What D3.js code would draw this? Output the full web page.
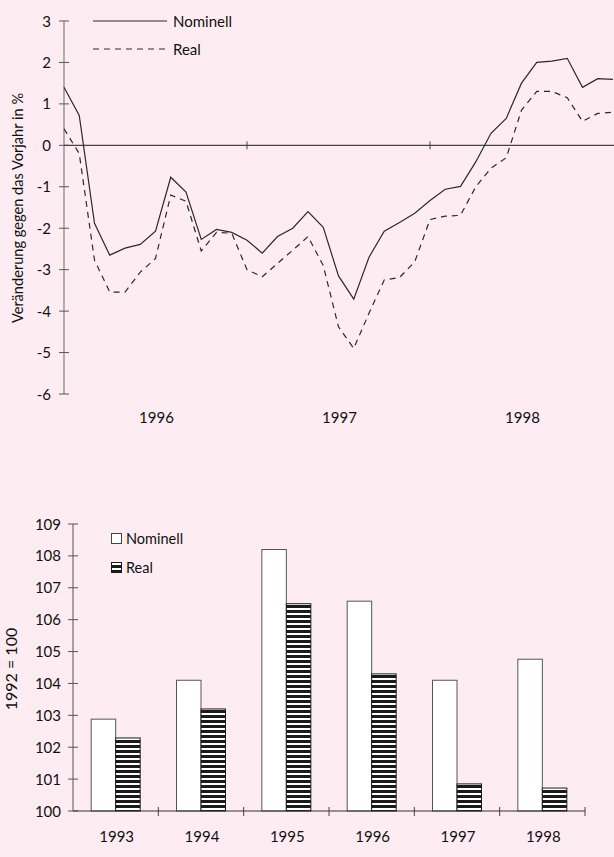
<!DOCTYPE html>
<html>
<head>
<meta charset="utf-8">
<script src="https://cdn.jsdelivr.net/npm/d3@7"></script>
<style>
  body { margin: 0; background: #fdedf2; }
  svg { display: block; font-family: Lato, "Noto Sans", sans-serif; }
  text { fill: #111; }
</style>
</head>
<body>
<div id="chart"></div>
<script>
// monthly change vs previous year, Dec 1995 .. Dec 1998 (index 0..36)
var years = ["1996", "1997", "1998"];
var nominal = [1.4, 0.72, -1.88, -2.65, -2.48, -2.39, -2.07, -0.77, -1.13, -2.27, -2.03, -2.1,
  -2.29, -2.6, -2.2, -2.0, -1.6, -1.98, -3.15, -3.71, -2.7, -2.07, -1.86, -1.64,
  -1.33, -1.06, -0.99, -0.4, 0.29, 0.65, 1.5, 2.0, 2.03, 2.1, 1.4, 1.61, 1.59];
var real = [0.4, -0.2, -2.77, -3.54, -3.54, -3.06, -2.73, -1.2, -1.35, -2.55, -2.1, -2.12,
  -3.0, -3.17, -2.85, -2.53, -2.2, -2.9, -4.38, -4.9, -4.05, -3.25, -3.19, -2.81,
  -1.79, -1.71, -1.69, -1.0, -0.55, -0.3, 0.85, 1.3, 1.3, 1.15, 0.58, 0.77, 0.8];
var topTicks = [3, 2, 1, 0, -1, -2, -3, -4, -5, -6];

// yearly index, 1992 = 100
var barYears = ["1993", "1994", "1995", "1996", "1997", "1998"];
var barNominal = [102.88, 104.1, 108.2, 106.58, 104.1, 104.76];
var barReal = [102.29, 103.2, 106.5, 104.3, 100.85, 100.72];
var barTicks = [100, 101, 102, 103, 104, 105, 106, 107, 108, 109];

var svgWidth = 614, svgHeight = 857;
var svg = d3.select("#chart").append("svg")
  .attr("width", svgWidth)
  .attr("height", svgHeight);

// stripe pattern for the "Real" bars
var pat = svg.append("defs").append("pattern")
  .attr("id", "stripes")
  .attr("patternUnits", "userSpaceOnUse")
  .attr("width", 8).attr("height", 5);
pat.append("rect").attr("width", 8).attr("height", 5).attr("fill", "#fff");
pat.append("rect").attr("width", 8).attr("height", 3).attr("fill", "#1b1b1b");

// ---------- top line chart ----------
var x = d3.scaleLinear().domain([0, 36]).range([64, 613]);
var y = d3.scaleLinear().domain([-6, 3]).range([394, 21]);

var topG = svg.append("g");

// y axis
topG.append("line")
  .attr("x1", x(0)).attr("x2", x(0))
  .attr("y1", y(3)).attr("y2", y(-6))
  .attr("stroke", "#888").attr("stroke-width", 1.3);
topG.selectAll(".ytick").data(topTicks).enter().append("line")
  .attr("x1", x(0) - 5).attr("x2", x(0) + 5)
  .attr("y1", d => y(d)).attr("y2", d => y(d))
  .attr("stroke", "#555");
topG.selectAll(".ylab").data(topTicks).enter().append("text")
  .attr("x", 51).attr("y", d => y(d) + 5.5)
  .attr("text-anchor", "end")
  .attr("font-size", 15)
  .text(d => d);

// zero line with year ticks
topG.append("line")
  .attr("x1", x(0)).attr("x2", svgWidth)
  .attr("y1", y(0)).attr("y2", y(0))
  .attr("stroke", "#444").attr("stroke-width", 1.2);
topG.selectAll(".xtick").data([12, 24]).enter().append("line")
  .attr("x1", d => x(d)).attr("x2", d => x(d))
  .attr("y1", y(0) - 4).attr("y2", y(0) + 4)
  .attr("stroke", "#444");

// year labels
topG.selectAll(".yr").data(years).enter().append("text")
  .attr("x", (d, i) => x(6 + i * 12) + 1)
  .attr("y", 423)
  .attr("text-anchor", "middle")
  .attr("font-size", 15)
  .text(d => d);

topG.append("text")
  .attr("transform", "translate(23, 208) rotate(-90)")
  .attr("text-anchor", "middle")
  .attr("font-size", 14.6)
  .text("Veränderung gegen das Vorjahr in %");

var line = d3.line().x((d, i) => x(i)).y(d => y(d));
topG.append("path").datum(nominal)
  .attr("d", line).attr("fill", "none")
  .attr("stroke", "#2a2a2a").attr("stroke-width", 1.2);
topG.append("path").datum(real)
  .attr("d", line).attr("fill", "none")
  .attr("stroke", "#2a2a2a").attr("stroke-width", 1.2)
  .attr("stroke-dasharray", "6,5");

// legend
var leg = [{ t: "Nominell", dash: null }, { t: "Real", dash: "6,5" }];
leg.forEach(function(l, i) {
  var ly = 21 + i * 28;
  topG.append("line")
    .attr("x1", 93).attr("x2", 167)
    .attr("y1", ly).attr("y2", ly)
    .attr("stroke", "#2a2a2a").attr("stroke-width", 1)
    .attr("stroke-dasharray", l.dash);
  topG.append("text")
    .attr("x", 173).attr("y", ly + 5.5)
    .attr("font-size", 15)
    .text(l.t);
});

// ---------- bottom bar chart ----------
var bx = d3.scaleBand().domain(barYears).range([73, 585]);
var by = d3.scaleLinear().domain([100, 109]).range([811, 524]);
var bw = 24.5;

var botG = svg.append("g");

botG.append("line")
  .attr("x1", 73).attr("x2", 73)
  .attr("y1", by(109)).attr("y2", by(100))
  .attr("stroke", "#777").attr("stroke-width", 1.3);
botG.selectAll(".ytick").data(barTicks).enter().append("line")
  .attr("x1", 68).attr("x2", 78)
  .attr("y1", d => by(d)).attr("y2", d => by(d))
  .attr("stroke", "#555");
botG.selectAll(".ylab").data(barTicks).enter().append("text")
  .attr("x", 61).attr("y", d => by(d) + 5.5)
  .attr("text-anchor", "end")
  .attr("font-size", 15)
  .text(d => d);

botG.append("text")
  .attr("transform", "translate(17, 669) rotate(-90)")
  .attr("text-anchor", "middle")
  .attr("font-size", 16)
  .text("1992 = 100");

// bars
botG.selectAll(".nom").data(barNominal).enter().append("rect")
  .attr("x", (d, i) => bx(barYears[i]) + bx.bandwidth() / 2 - bw)
  .attr("y", d => by(d))
  .attr("width", bw)
  .attr("height", d => by(100) - by(d))
  .attr("fill", "#fff")
  .attr("stroke", "#555").attr("stroke-width", 1);
botG.selectAll(".real").data(barReal).enter().append("rect")
  .attr("x", (d, i) => bx(barYears[i]) + bx.bandwidth() / 2)
  .attr("y", d => by(d))
  .attr("width", bw)
  .attr("height", d => by(100) - by(d))
  .attr("fill", "url(#stripes)")
  .attr("stroke", "#1b1b1b").attr("stroke-width", 1);

// x axis
botG.append("line")
  .attr("x1", 73).attr("x2", 585)
  .attr("y1", by(100)).attr("y2", by(100))
  .attr("stroke", "#333").attr("stroke-width", 1.2);
botG.selectAll(".xtick").data(barYears).enter().append("line")
  .attr("x1", d => bx(d) + bx.bandwidth()).attr("x2", d => bx(d) + bx.bandwidth())
  .attr("y1", by(100) - 4).attr("y2", by(100) + 5)
  .attr("stroke", "#444");
botG.selectAll(".xlab").data(barYears).enter().append("text")
  .attr("x", d => bx(d) + bx.bandwidth() / 2 + 1)
  .attr("y", 842)
  .attr("text-anchor", "middle")
  .attr("font-size", 15)
  .text(d => d);

// legend
botG.append("rect").attr("x", 111.5).attr("y", 533.5).attr("width", 10).attr("height", 10)
  .attr("fill", "#fff").attr("stroke", "#444");
botG.append("text").attr("x", 126).attr("y", 543.5).attr("font-size", 14.5).text("Nominell");
botG.append("rect").attr("x", 111.5).attr("y", 562.5).attr("width", 10).attr("height", 10)
  .attr("fill", "url(#stripes)").attr("stroke", "#1b1b1b");
botG.append("text").attr("x", 126).attr("y", 572.5).attr("font-size", 14.5).text("Real");
</script>
</body>
</html>
